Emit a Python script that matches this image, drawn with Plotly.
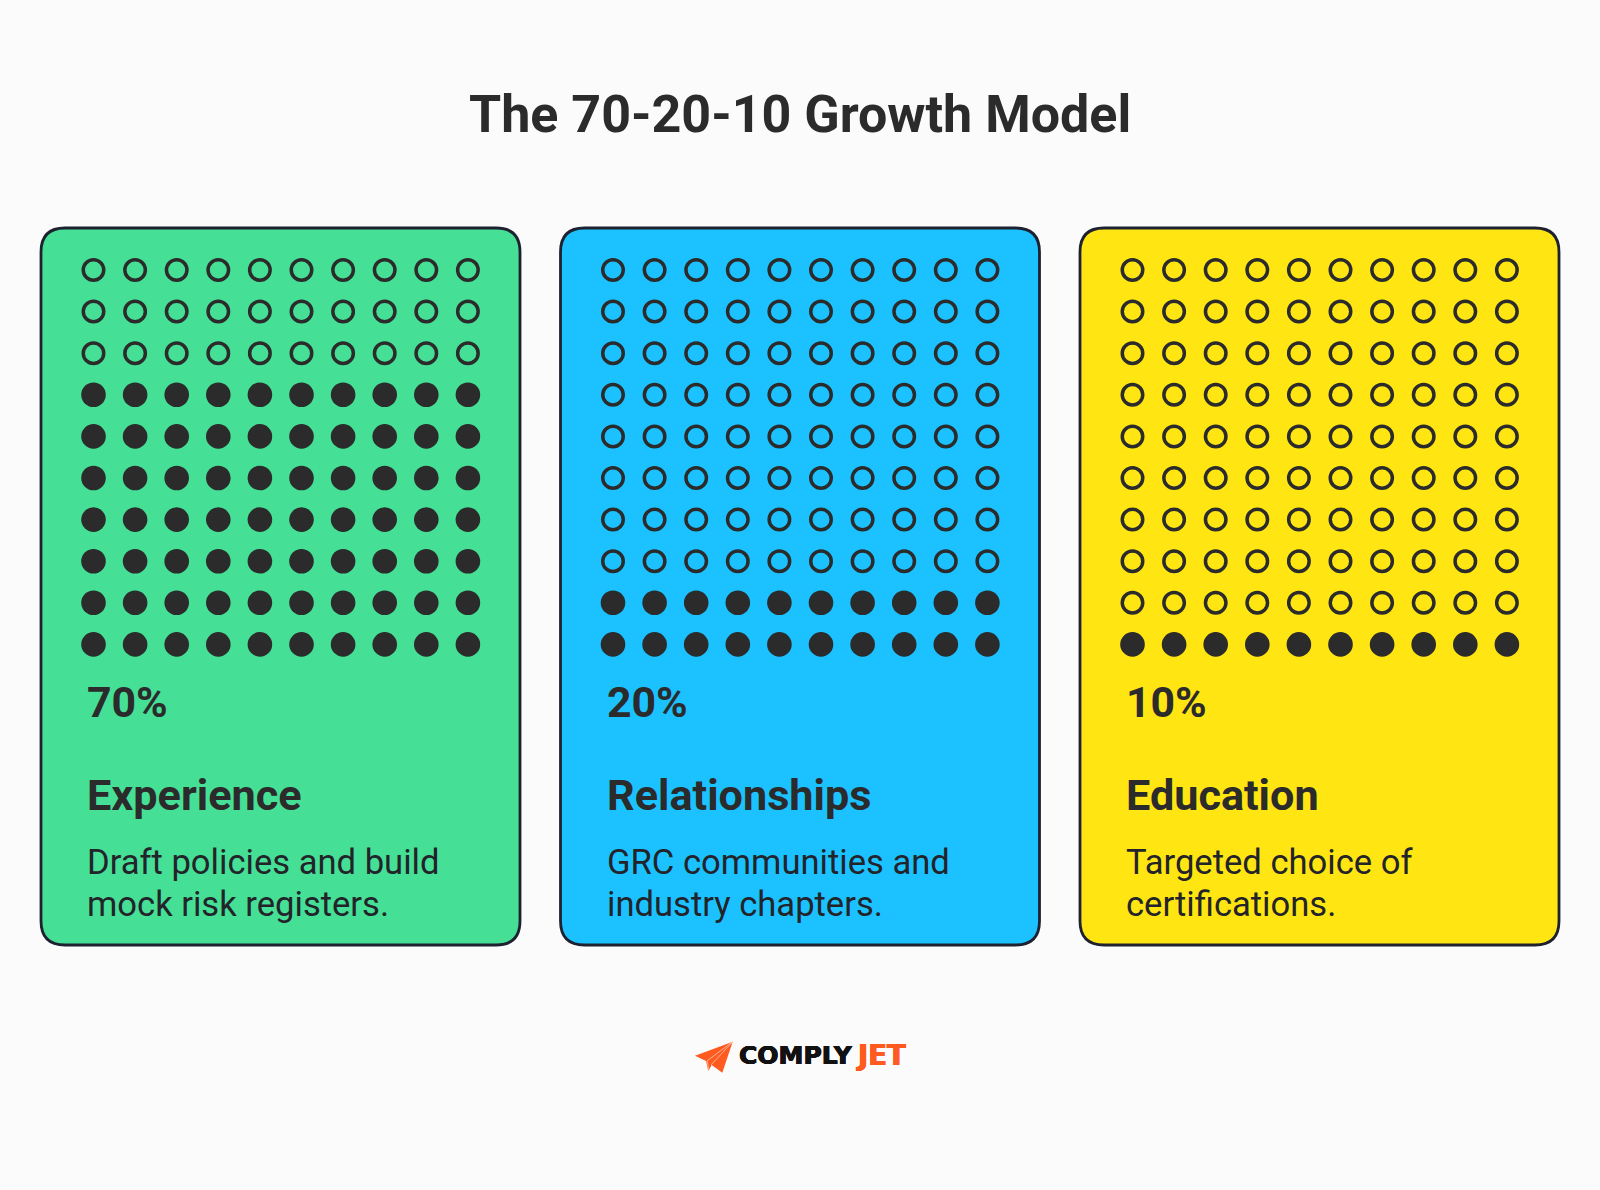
import plotly.graph_objects as go

W, H = 1600, 1190

# data
percents = [70, 20, 10]
categories = ['Experience', 'Relationships', 'Education']
desc_lines = [
    ['Draft policies and build', 'mock risk registers.'],
    ['GRC communities and', 'industry chapters.'],
    ['Targeted choice of', 'certifications.'],
]
card_colors = ['#45E096', '#1BC2FF', '#FFE612']
grid_cols = list(range(1, 11))
grid_rows = list(range(1, 11))

DARK = '#2B2B2B'
BORDER = '#1E2230'
FONT = 'Roboto'

card_left = [41, 560.5, 1080]
card_w, card_top, card_bottom = 479, 228, 945
pitch = 41.6
first_dot_offset = 52.5  # card left edge to first dot


def px(x):
    return x / W


def py(y):
    return 1 - y / H


def rounded_rect(x0, y0, x1, y1, r):
    # paper coords, so the corners are built from quadratic curves
    p = [
        f'M {px(x0 + r)} {py(y0)}', f'L {px(x1 - r)} {py(y0)}',
        f'Q {px(x1)} {py(y0)} {px(x1)} {py(y0 + r)}', f'L {px(x1)} {py(y1 - r)}',
        f'Q {px(x1)} {py(y1)} {px(x1 - r)} {py(y1)}', f'L {px(x0 + r)} {py(y1)}',
        f'Q {px(x0)} {py(y1)} {px(x0)} {py(y1 - r)}', f'L {px(x0)} {py(y0 + r)}',
        f'Q {px(x0)} {py(y0)} {px(x0 + r)} {py(y0)}', 'Z',
    ]
    return ' '.join(p)


def polygon(points):
    return 'M ' + ' L '.join(f'{px(x)} {py(y)}' for x, y in points) + ' Z'


def label(text, x, baseline, size, bold=False, color=DARK, anchor='left', family=FONT, weight=None, shadow=None):
    font = dict(family=family, size=size, color=color, weight=weight or (700 if bold else 400))
    if shadow:
        font['shadow'] = shadow
    return dict(
        text=text, xref='paper', yref='paper', x=px(x), y=py(baseline - 0.345 * size),
        xanchor=anchor, yanchor='middle', showarrow=False, borderpad=0, font=font,
    )


fig = go.Figure()
shapes, annotations = [], []

for i, pct in enumerate(percents):
    left = card_left[i]
    n_filled = pct // 10  # bottom rows are the filled ones
    open_x, open_y, full_x, full_y = [], [], [], []
    for r in grid_rows:
        for c in grid_cols:
            if r > len(grid_rows) - n_filled:
                full_x.append(c)
                full_y.append(r)
            else:
                open_x.append(c)
                open_y.append(r)

    xname = 'x' if i == 0 else f'x{i + 1}'
    yname = 'y' if i == 0 else f'y{i + 1}'
    fig.add_trace(go.Scatter(
        x=open_x, y=open_y, xaxis=xname, yaxis=yname, mode='markers', hoverinfo='skip',
        marker=dict(size=20.5, color='rgba(0,0,0,0)', line=dict(width=3.5, color=DARK)),
    ))
    fig.add_trace(go.Scatter(
        x=full_x, y=full_y, xaxis=xname, yaxis=yname, mode='markers', hoverinfo='skip',
        marker=dict(size=24.6, color=DARK, line=dict(width=0)),
    ))

    # one axis pair per card, 0.5..10.5 spans the dot grid
    x0 = left + first_dot_offset - pitch / 2
    y0 = 270 - pitch / 2
    axis = dict(visible=False, fixedrange=True)
    fig.update_layout({
        f'xaxis{"" if i == 0 else i + 1}': dict(
            axis, domain=[px(x0), px(x0 + 10 * pitch)], range=[0.5, 10.5], anchor=yname),
        f'yaxis{"" if i == 0 else i + 1}': dict(
            axis, domain=[py(y0 + 10 * pitch), py(y0)], range=[10.5, 0.5], anchor=xname),
    })

    shapes.append(dict(
        type='path', xref='paper', yref='paper', layer='below',
        path=rounded_rect(left, card_top, left + card_w, card_bottom, 24),
        fillcolor=card_colors[i], line=dict(color=BORDER, width=2.8),
    ))

    tx = left + 45
    annotations.append(label(f'{pct}%', tx, 716.5, 42.8, bold=True))
    annotations.append(label(categories[i], tx, 810, 43.2, bold=True))
    annotations.append(label(desc_lines[i][0], tx, 873.5, 34.6, color='#23242A'))
    annotations.append(label(desc_lines[i][1], tx, 916, 34.6, color='#23242A'))

annotations.append(label('The 70-20-10 Growth Model', 800, 132.5, 52, bold=True, anchor='center'))

# logo
ORANGE = '#FF5A1F'
shapes.append(dict(type='path', xref='paper', yref='paper', line=dict(width=0), fillcolor=ORANGE,
                   path=polygon([(732.7, 1041.7), (695, 1055.7), (706, 1061), (708.3, 1071),
                                 (711.7, 1065), (722.3, 1072.7)])))
shapes.append(dict(type='path', xref='paper', yref='paper', line=dict(width=0.8, color='#FFC9B0'),
                   path=f'M {px(732.7)} {py(1041.7)} L {px(707)} {py(1061)} L {px(709)} {py(1070)}'))
shapes.append(dict(type='path', xref='paper', yref='paper', line=dict(width=0.8, color='#FFC9B0'),
                   path=f'M {px(732.7)} {py(1041.7)} L {px(711)} {py(1065)}'))
heavy = '0.5px 0 0 {0}, -0.5px 0 0 {0}, 0 0.4px 0 {0}, 0 -0.4px 0 {0}'
annotations.append(label('COMPLY', 737.5, 1064, 25, color='#111111', family='DejaVu Sans', weight=700,
                         shadow=heavy.format('#111111')))
annotations.append(label('JET', 854.5, 1064, 27.5, color=ORANGE, family='DejaVu Sans', weight=700,
                         shadow=heavy.format(ORANGE)))

fig.update_layout(
    width=W, height=H, margin=dict(l=0, r=0, t=0, b=0), showlegend=False,
    paper_bgcolor='#FBFBFB', plot_bgcolor='rgba(0,0,0,0)',
    shapes=shapes, annotations=annotations,
)

# the default page margin would push the figure 8px off the window corner
fig.write_html("out.html", config=dict(displayModeBar=False),
               post_script="document.body.style.margin='0';document.body.style.overflow='hidden';")
